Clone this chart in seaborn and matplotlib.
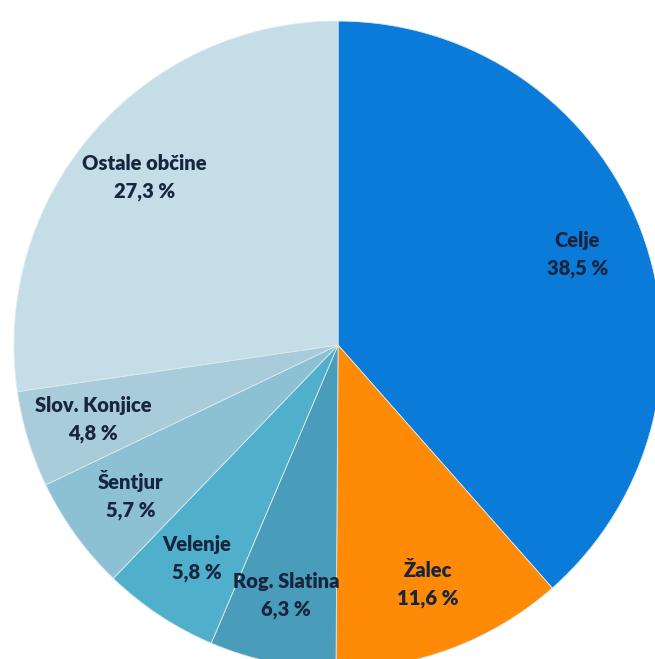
import matplotlib
matplotlib.use("Agg")
import matplotlib.pyplot as plt
import seaborn as sns
import numpy as np

# podatki
obcine = ["Celje", "Žalec", "Rog. Slatina", "Velenje", "Šentjur", "Slov. Konjice", "Ostale občine"]
delezi = [38.5, 11.6, 6.3, 5.8, 5.7, 4.8, 27.3]
barve = ["#0B7BD9", "#FF8A05", "#4A9DBA", "#50AFCB", "#8CC1D4", "#A8CCDA", "#C5DDE7"]

sns.set_theme(style="white")
plt.rcParams['font.family'] = ['Lato', 'DejaVu Sans']

fig = plt.figure(figsize=(6.55, 6.59), dpi=100)
ax = fig.add_axes([0, 0, 1, 1])

wedges, _ = ax.pie(delezi, colors=barve, startangle=90, counterclock=False,
                   radius=1.0, wedgeprops=dict(edgecolor="#dbe9ef", linewidth=0.6))

# oznake v rezinah
for w, ime, d in zip(wedges, obcine, delezi):
    ang = np.deg2rad((w.theta1 + w.theta2) / 2)
    r = 0.79
    ax.text(r * np.cos(ang), r * np.sin(ang), "%s\n%s %%" % (ime, str(d).replace(".", ",")),
            ha="center", va="center", fontsize=14.5, fontweight="heavy",
            color="#17253f", linespacing=1.55)

ax.set_xlim(-1.043, 0.978)
ax.set_ylim(-0.969, 1.065)
ax.set_aspect("equal")
ax.axis("off")

fig.savefig("out.png", dpi=100)
